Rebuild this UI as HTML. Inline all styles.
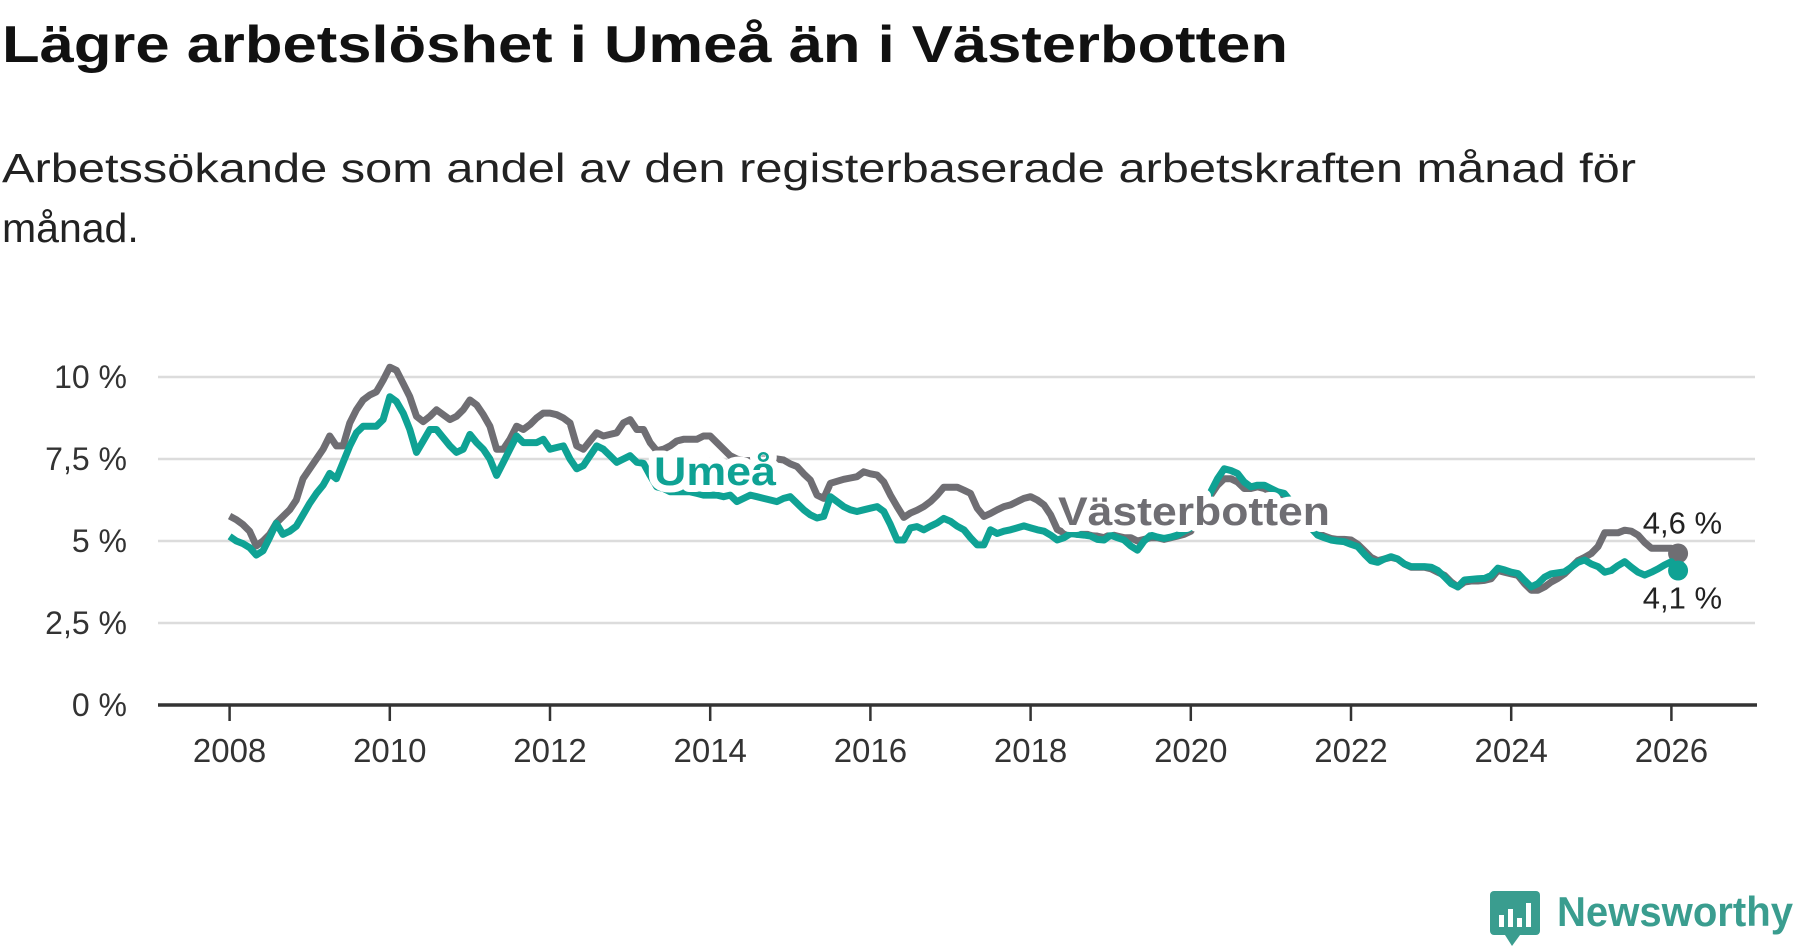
<!DOCTYPE html>
<html><head><meta charset="utf-8"><style>
html,body{margin:0;padding:0;background:#fff;}
svg{display:block;font-family:"Liberation Sans",sans-serif;}
</style></head><body>
<svg id="chart" width="1800" height="948" viewBox="0 0 1800 948">
<text x="2" y="62" font-size="52" font-weight="bold" fill="#111" textLength="1286" lengthAdjust="spacingAndGlyphs">Lägre arbetslöshet i Umeå än i Västerbotten</text>
<text x="2" y="182" font-size="41" fill="#222" textLength="1634" lengthAdjust="spacingAndGlyphs">Arbetssökande som andel av den registerbaserade arbetskraften månad för</text>
<text x="2" y="242" font-size="41" fill="#222">månad.</text>
<g id="grid"></g>
<g id="yticks"></g>
<g id="xticks"></g>
<g id="series"></g>
<g id="labels"></g>
<g>
<rect x="1490" y="891" width="50" height="44" rx="4" fill="#3a9d8f"/>
<polygon points="1505,935 1520,935 1512,946" fill="#3a9d8f"/>
<rect x="1499" y="915" width="5" height="12" fill="#fff"/>
<rect x="1508" y="909" width="5" height="18" fill="#fff"/>
<rect x="1517" y="918" width="5" height="9" fill="#fff"/>
<rect x="1526" y="903" width="5" height="24" fill="#fff"/>
<text x="1557" y="926" font-size="42" font-weight="bold" fill="#3a9d8f" textLength="236" lengthAdjust="spacingAndGlyphs">Newsworthy</text>
</g>
</svg>
<script>
const yTicks = [0, 2.5, 5, 7.5, 10];
const yTickLabels = ["0 %", "2,5 %", "5 %", "7,5 %", "10 %"];
const xTicks = [2008, 2010, 2012, 2014, 2016, 2018, 2020, 2022, 2024, 2026];
const startYear = 2008;
const vasterbotten = [
5.76,5.65,5.5,5.3,4.85,5.0,5.2,5.55,5.75,5.95,6.25,6.9,7.2,7.5,7.8,8.2,7.9,7.9,8.6,9.0,
9.3,9.45,9.55,9.9,10.3,10.2,9.8,9.4,8.8,8.64,8.8,9.0,8.85,8.7,8.8,9.0,9.3,9.15,8.85,8.5,
7.8,7.8,8.1,8.5,8.4,8.55,8.75,8.9,8.9,8.85,8.75,8.6,7.9,7.8,8.05,8.3,8.2,8.25,8.3,8.6,
8.7,8.4,8.4,8.0,7.75,7.8,7.9,8.05,8.1,8.1,8.1,8.2,8.2,8.0,7.8,7.6,7.5,7.45,7.45,7.5,
7.5,7.5,7.5,7.47,7.35,7.27,7.05,6.86,6.4,6.3,6.76,6.82,6.88,6.92,6.96,7.11,7.05,7.01,6.8,6.4,
6.05,5.72,5.85,5.94,6.05,6.2,6.4,6.64,6.64,6.64,6.55,6.45,6.0,5.75,5.84,5.95,6.05,6.1,6.2,6.3,
6.35,6.25,6.1,5.8,5.35,5.25,5.25,5.2,5.2,5.2,5.15,5.1,5.2,5.15,5.1,5.1,5.0,5.05,5.1,5.1,
5.05,5.1,5.15,5.2,5.3,5.6,6.1,6.4,6.7,6.9,6.9,6.8,6.6,6.6,6.65,6.6,6.5,6.4,6.2,6.0,
5.8,5.6,5.4,5.25,5.15,5.08,5.05,5.05,5.03,4.9,4.7,4.5,4.4,4.45,4.5,4.45,4.3,4.2,4.2,4.2,
4.15,4.05,3.95,3.75,3.6,3.75,3.78,3.78,3.8,3.85,4.1,4.05,4.0,3.95,3.7,3.5,3.5,3.6,3.75,3.86,
4.0,4.2,4.4,4.5,4.62,4.83,5.25,5.25,5.25,5.33,5.3,5.18,4.95,4.78,4.78,4.78,4.78,4.62];
const umea = [
5.14,5.0,4.92,4.8,4.57,4.7,5.1,5.54,5.2,5.3,5.45,5.8,6.15,6.45,6.7,7.06,6.9,7.4,7.9,8.3,
8.5,8.5,8.5,8.7,9.4,9.25,8.9,8.4,7.7,8.05,8.4,8.4,8.15,7.9,7.7,7.8,8.25,8.0,7.8,7.5,
7.0,7.4,7.8,8.2,8.0,8.0,8.0,8.1,7.8,7.85,7.9,7.5,7.2,7.3,7.6,7.9,7.8,7.6,7.4,7.5,
7.6,7.4,7.37,7.0,6.65,6.6,6.5,6.5,6.5,6.5,6.45,6.4,6.4,6.4,6.35,6.4,6.2,6.3,6.4,6.35,
6.3,6.25,6.2,6.3,6.35,6.15,5.95,5.8,5.7,5.75,6.35,6.2,6.05,5.95,5.9,5.95,6.0,6.05,5.9,5.5,
5.03,5.03,5.4,5.44,5.34,5.45,5.55,5.69,5.6,5.45,5.34,5.1,4.88,4.88,5.34,5.23,5.3,5.34,5.4,5.46,
5.4,5.34,5.3,5.18,5.03,5.1,5.23,5.2,5.18,5.15,5.05,5.03,5.18,5.1,5.03,4.85,4.72,5.0,5.18,5.12,
5.08,5.12,5.18,5.3,5.4,5.7,6.1,6.5,6.9,7.2,7.15,7.06,6.8,6.65,6.7,6.7,6.6,6.5,6.45,6.2,
5.95,5.7,5.4,5.18,5.1,5.03,5.0,4.98,4.9,4.83,4.6,4.4,4.35,4.45,4.52,4.45,4.3,4.22,4.22,4.22,
4.2,4.1,3.91,3.7,3.6,3.81,3.83,3.85,3.86,3.95,4.17,4.12,4.05,4.01,3.8,3.6,3.7,3.9,4.0,4.03,
4.06,4.2,4.35,4.42,4.3,4.22,4.05,4.1,4.25,4.37,4.2,4.05,3.96,4.05,4.15,4.27,4.37,4.1];
const endLabels = ["4,6 %", "4,1 %"];

const NS = "http://www.w3.org/2000/svg";
const x0 = 229.6, pxPerYear = 80.1, y0 = 705, pxPerPct = 32.8;
function xs(t){ return x0 + (t - startYear) * pxPerYear; }
function ys(v){ return y0 - v * pxPerPct; }
function mk(tag, attrs, parent){ const e = document.createElementNS(NS, tag); for (const k in attrs) e.setAttribute(k, attrs[k]); parent.appendChild(e); return e; }

const grid = document.getElementById('grid'), yt = document.getElementById('yticks'), xt = document.getElementById('xticks');
yTicks.forEach((v, i) => {
  if (v > 0) {
    const l = mk('line', {x1:158, x2:1755, y1:ys(v), y2:ys(v), stroke:'#dcdcdc', 'stroke-width':2.5}, grid);
    
    
  }
  const t = mk('text', {x:127, y:ys(v)+11, 'text-anchor':'end', 'font-size':32, fill:'#333'}, yt);
  
  
  t.textContent = yTickLabels[i];
});
const base = mk('line', {x1:158, x2:1757, y1:y0, y2:y0, stroke:'#333', 'stroke-width':3.5}, xt);


xTicks.forEach(yr => {
  const tk = mk('line', {x1:xs(yr), x2:xs(yr), y1:y0, y2:y0+16, stroke:'#333', 'stroke-width':2.5}, xt);
  
  
  const t = mk('text', {x:xs(yr), y:762, 'text-anchor':'middle', 'font-size':33, fill:'#333'}, xt);
  
  
  t.textContent = yr;
});

const ser = document.getElementById('series');
function drawLine(data, color, name){
  const d = data.map((v, i) => (i ? 'L' : 'M') + xs(startYear + i/12).toFixed(1) + ',' + ys(v).toFixed(1)).join(' ');
  const p = mk('path', {d:d, fill:'none', stroke:color, 'stroke-width':7, 'stroke-linejoin':'round'}, ser);
  
  
  const n = data.length - 1;
  const c = mk('circle', {cx:xs(startYear + n/12), cy:ys(data[n]), r:10, fill:color}, ser);
  
  
}
drawLine(vasterbotten, '#6f6e73', 'vasterbotten-line');
drawLine(umea, '#0fa294', 'umea-line');

const lab = document.getElementById('labels');
const u = mk('text', {x:654, y:485, 'font-size':40, 'font-weight':'bold', fill:'#0fa294', stroke:'#fff', 'stroke-width':14, 'paint-order':'stroke', 'stroke-linejoin':'round', textLength:122, lengthAdjust:'spacingAndGlyphs'}, lab);


u.textContent = 'Umeå';
const vb = mk('text', {x:1058, y:525, 'font-size':40, 'font-weight':'bold', fill:'#6f6e73', stroke:'#fff', 'stroke-width':14, 'paint-order':'stroke', 'stroke-linejoin':'round', textLength:272, lengthAdjust:'spacingAndGlyphs'}, lab);


vb.textContent = 'Västerbotten';
const nEnd = umea.length - 1;
const e1 = mk('text', {x:xs(startYear + nEnd/12)+44, y:ys(vasterbotten[nEnd])-20, 'text-anchor':'end', 'font-size':31, fill:'#222'}, lab);


e1.textContent = endLabels[0];
const e2 = mk('text', {x:xs(startYear + nEnd/12)+44, y:ys(umea[nEnd])+38, 'text-anchor':'end', 'font-size':31, fill:'#222'}, lab);


e2.textContent = endLabels[1];
</script>
</body></html>
